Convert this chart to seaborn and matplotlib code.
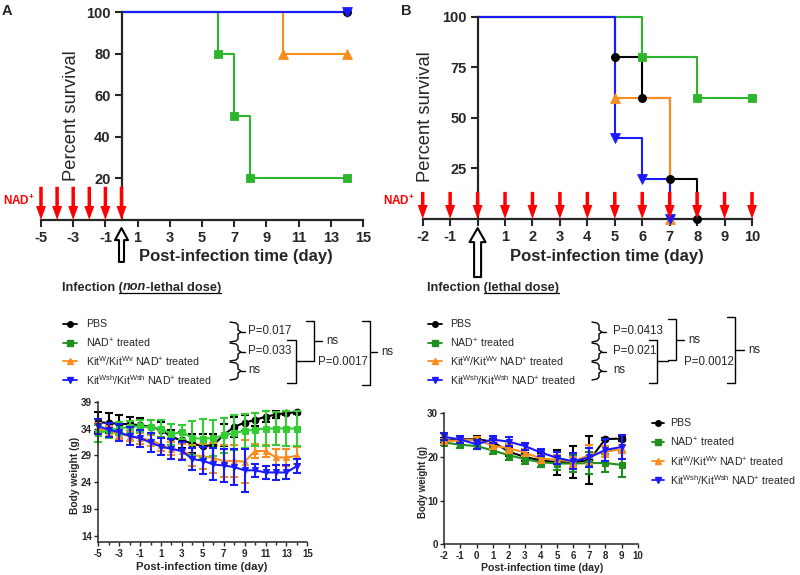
import matplotlib
matplotlib.use("Agg")
import matplotlib.pyplot as plt
import seaborn as sns

sns.set_style("ticks")
plt.rcParams['font.family'] = ['Liberation Sans', 'DejaVu Sans']
plt.rcParams['mathtext.fontset'] = 'custom'
plt.rcParams['mathtext.rm'] = 'Liberation Sans'
plt.rcParams['mathtext.it'] = 'Liberation Sans:italic'
plt.rcParams['mathtext.bf'] = 'Liberation Sans:bold'
plt.rcParams['mathtext.default'] = 'regular'

# ---- data -------------------------------------------------------------
groups = ['PBS', 'NAD$^{+}$ treated', 'Kit$^{W}$/Kit$^{Wv}$ NAD$^{+}$ treated',
          'Kit$^{Wsh}$/Kit$^{Wsh}$ NAD$^{+}$ treated']

# survival (A, non-lethal dose): step times and percent survival
a_pbs_t, a_pbs_s = [0, 14], [100, 100]
a_nad_t, a_nad_s = [0, 6, 7, 8, 14], [100, 80, 50, 20, 20]
a_kitw_t, a_kitw_s = [0, 10, 14], [100, 80, 80]
a_wsh_t, a_wsh_s = [0, 14], [100, 100]
a_nad_days = [-5, -4, -3, -2, -1, 0]

# survival (B, lethal dose)
b_pbs_t, b_pbs_s = [0, 5, 6, 7, 8], [100, 80, 60, 20, 0]
b_nad_t, b_nad_s = [0, 6, 8, 10], [100, 80, 60, 60]
b_kitw_t, b_kitw_s = [0, 5, 7], [100, 60, 0]
b_wsh_t, b_wsh_s = [0, 5, 6, 7], [100, 40, 20, 0]
b_nad_days = [-2, -1, 0, 1, 2, 3, 4, 5, 6, 7, 8, 9, 10]

# body weight (A)
wa_days = list(range(-5, 15))
wa_pbs = [35.2, 35.0, 34.9, 34.8, 34.6, 34.3, 33.8, 32.4, 31.8, 31.2, 30.7, 30.9, 32.8, 34.3, 35.1, 35.6, 36.2, 36.6, 36.9, 37.0]
wa_pbs_err = [1.9, 1.8, 1.6, 1.4, 1.3, 1.3, 1.4, 1.4, 1.5, 1.8, 2.2, 2.0, 2.0, 1.9, 1.5, 1.2, 1.0, 0.6, 0.4, 0.3]
wa_nad = [33.1, 33.7, 34.0, 34.3, 34.4, 34.2, 34.0, 32.9, 33.4, 32.2, 32.1, 32.2, 32.7, 33.2, 33.5, 33.8, 34.0, 34.0, 34.0, 34.0]
wa_nad_err = [1.6, 1.4, 1.2, 1.1, 1.1, 1.3, 1.6, 2.0, 1.3, 3.2, 3.6, 3.4, 3.3, 3.3, 3.2, 3.1, 3.3, 3.0, 3.3, 3.3]
wa_kitw = [34.0, 33.4, 33.0, 32.6, 32.2, 31.8, 31.0, 30.2, 29.8, 29.0, 28.8, 28.5, 27.9, 28.0, 27.8, 29.8, 29.8, 28.6, 28.6, 28.9]
wa_kitw_err = [1.0, 1.0, 1.0, 1.0, 1.0, 1.0, 1.2, 1.2, 1.4, 2.0, 2.4, 2.8, 3.0, 3.0, 4.0, 1.3, 1.2, 1.5, 1.6, 1.6]
wa_wsh = [34.4, 33.8, 33.3, 32.6, 32.2, 31.4, 30.6, 30.2, 29.8, 28.3, 28.0, 27.3, 27.1, 26.8, 26.2, 26.2, 25.8, 25.8, 25.8, 27.0]
wa_wsh_err = [1.4, 1.3, 1.6, 1.7, 1.6, 1.7, 1.6, 1.8, 1.6, 2.0, 2.5, 3.0, 3.0, 3.3, 4.0, 1.2, 1.2, 1.4, 1.3, 1.3]

# body weight (B)
wb_days = list(range(-2, 10))
wb_pbs = [23.7, 24.0, 24.1, 23.5, 21.2, 20.0, 19.2, 18.8, 18.8, 19.3, 24.1, 24.2]
wb_pbs_err = [0.6, 0.6, 0.6, 0.7, 1.0, 1.0, 1.6, 2.9, 3.6, 5.5, 0.3, 0.5]
wb_nad = [23.3, 22.8, 22.5, 21.5, 20.4, 19.5, 18.8, 18.5, 18.5, 18.6, 18.6, 18.2]
wb_nad_err = [0.6, 0.8, 0.7, 0.8, 1.2, 1.0, 1.0, 1.5, 2.0, 2.6, 2.0, 2.9]
wb_kitw = [23.6, 23.8, 24.0, 22.6, 22.0, 21.0, 19.6, 19.4, 18.9, 20.5, 21.2, 21.8]
wb_kitw_err = [0.6, 0.6, 0.5, 0.8, 1.0, 0.8, 0.9, 1.0, 1.2, 2.2, 1.2, 1.0]
wb_wsh = [24.6, 24.0, 22.9, 24.0, 23.5, 22.5, 21.0, 19.8, 19.0, 19.9, 21.6, 22.3]
wb_wsh_err = [0.8, 0.8, 1.0, 0.9, 1.0, 0.8, 0.8, 1.3, 1.8, 2.2, 2.5, 2.8]

# statistics brackets
a_pvals = ['P=0.017', 'P=0.033', 'ns', 'ns', 'P=0.0017', 'ns']
b_pvals = ['P=0.0413', 'P=0.021', 'ns', 'ns', 'P=0.0012', 'ns']

# ---- styling ----------------------------------------------------------
BLACK, ORANGE, BLUE = '#000000', '#fb8c1e', '#1a1aff'
GREEN_S, GREEN_WA, GREEN_D = '#2db52d', '#33cc33', '#1f8f1f'
markers = ['o', 's', '^', 'v']

W, H = 800, 575
fig = plt.figure(figsize=(8, 5.75), dpi=100)


def rect(l, r, t, b):
    return [l / W, 1 - b / H, (r - l) / W, (b - t) / H]


MS = 10 * 100 / 72  # mutation scale in px


def survival(ax, curves, xlim, xticks, xlabels, yticks, nad_days, nad_top, tip, tail, head):
    for (t, s), col, mk, sz in curves:
        sns.lineplot(x=t, y=s, drawstyle='steps-post', color=col, lw=1.5,
                     errorbar=None, ax=ax, clip_on=False)
        sns.scatterplot(x=t[1:], y=s[1:], marker=mk, s=sz, color=col, edgecolor=col,
                        linewidth=0.6, ax=ax, clip_on=False, zorder=3)
    ax.set_xlim(*xlim)
    ax.set_ylim(0, 100)
    sns.despine(ax=ax)
    ax.spines['left'].set_position(('data', 0))
    ax.spines['left'].set_bounds(0, 100)
    for sp in ['left', 'bottom']:
        ax.spines[sp].set_linewidth(1.6)
    ax.set_xticks(xticks, labels=xlabels, fontsize=10.5, fontweight='bold')
    ax.set_yticks(yticks, labels=[str(v) for v in yticks], fontsize=10.5, fontweight='bold')
    ax.tick_params(length=5, width=1.5, pad=3)
    ax.set_xlabel('')
    ax.set_ylabel('')
    for d in nad_days:
        ax.annotate('', xy=(d, 0), xytext=(d, nad_top), annotation_clip=False,
                    arrowprops=dict(arrowstyle=f'simple,head_length={14 / MS},head_width={10 / MS},tail_width={3.5 / MS}',
                                    color='red', lw=0, shrinkA=0, shrinkB=0, mutation_scale=10))
    hl, hw, tw = head
    ax.annotate('', xy=(0, tip), xytext=(0, tail), annotation_clip=False,
                arrowprops=dict(arrowstyle=f'simple,head_length={hl / MS},head_width={hw / MS},tail_width={tw / MS}',
                                fc='white', ec='black', lw=1.5, shrinkA=0, shrinkB=0, mutation_scale=10))


ax_a = fig.add_axes(rect(41, 363, 12.3, 220))
survival(ax_a,
         [((a_pbs_t, a_pbs_s), BLACK, 'o', 34), ((a_nad_t, a_nad_s), GREEN_S, 's', 40),
          ((a_kitw_t, a_kitw_s), ORANGE, '^', 50), ((a_wsh_t, a_wsh_s), BLUE, 'v', 50)],
         (-5, 15), list(range(-5, 16, 2)), [str(v) for v in range(-5, 16, 2)],
         [20, 40, 60, 80, 100], a_nad_days, 16, -3.9, -20.2, (12, 13, 5))

ax_b = fig.add_axes(rect(422.7, 752, 16.7, 219))
survival(ax_b,
         [((b_pbs_t, b_pbs_s), BLACK, 'o', 34), ((b_nad_t, b_nad_s), GREEN_S, 's', 40),
          ((b_kitw_t, b_kitw_s), ORANGE, '^', 50), ((b_wsh_t, b_wsh_s), BLUE, 'v', 50)],
         (-2, 10), list(range(-2, 11)), ['' if v == 0 else str(v) for v in range(-2, 11)],
         [25, 50, 75, 100], b_nad_days, 13.4, -4.5, -28.7, (14, 16, 7))


def weight(ax, series, xlim, xticks, ylim, yticks):
    for days, vals, err, col, mk in series:
        sns.lineplot(x=days, y=vals, marker=mk, markersize=4.8, markeredgecolor=col,
                     color=col, lw=1.5, errorbar=None, ax=ax, clip_on=False)
        ax.errorbar(days, vals, yerr=err, fmt='none', ecolor=col, elinewidth=1.5,
                    capsize=2.8, capthick=1.5, clip_on=False)
    ax.set_xlim(*xlim)
    ax.set_ylim(*ylim)
    sns.despine(ax=ax)
    for sp in ['left', 'bottom']:
        ax.spines[sp].set_linewidth(1.1)
    ax.set_xticks(xticks, labels=[str(v) for v in xticks], fontsize=7, fontweight='bold')
    ax.set_yticks(yticks, labels=[str(v) for v in yticks], fontsize=7, fontweight='bold')
    ax.tick_params(length=3, width=1, pad=1.5)
    ax.set_xlabel('')
    ax.set_ylabel('')


ax_wa = fig.add_axes(rect(98.3, 307.3, 401.7, 542.3))
weight(ax_wa, [(wa_days, wa_pbs, wa_pbs_err, BLACK, 'o'),
               (wa_days, wa_kitw, wa_kitw_err, ORANGE, '^'),
               (wa_days, wa_nad, wa_nad_err, GREEN_WA, 's'),
               (wa_days, wa_wsh, wa_wsh_err, BLUE, 'v')],
       (-5, 15), list(range(-5, 16, 2)), (12.77, 39), [14, 19, 24, 29, 34, 39])
ax_wa.set_xticks(range(-5, 16), minor=True)
ax_wa.tick_params(which='minor', length=2, width=1)

ax_wb = fig.add_axes(rect(444.3, 637.7, 413.3, 544.3))
weight(ax_wb, [(wb_days, wb_pbs, wb_pbs_err, BLACK, 'o'),
               (wb_days, wb_nad, wb_nad_err, GREEN_D, 's'),
               (wb_days, wb_kitw, wb_kitw_err, ORANGE, '^'),
               (wb_days, wb_wsh, wb_wsh_err, BLUE, 'v')],
       (-2, 10), list(range(-2, 11)), (0, 30), [0, 10, 20, 30])

# ---- overlay for annotations (pixel coordinates) ------------------------
ov = fig.add_axes([0, 0, 1, 1])
ov.set_xlim(0, W)
ov.set_ylim(H, 0)
ov.axis('off')

ov.text(2, 4, 'A', fontsize=10.5, fontweight='bold', va='top', ha='left')
ov.text(401, 4, 'B', fontsize=10.5, fontweight='bold', va='top', ha='left')

for x, y in [(72, 116), (426, 117)]:
    ov.text(x, y, 'Percent survival', rotation=90, fontsize=13.2, ha='center', va='center')
for x, y in [(236, 257), (607, 257)]:
    ov.text(x, y, 'Post-infection time (day)', fontsize=12, fontweight='bold', ha='center', va='center')
ov.text(35, 201, 'NAD$^{+}$', color='red', fontsize=8.5, fontweight='bold', ha='right', va='center')
ov.text(415, 201, 'NAD$^{+}$', color='red', fontsize=8.5, fontweight='bold', ha='right', va='center')

rend = fig.canvas.get_renderer()


def infection(x, y, parts):
    cx = x
    for txt, st in parts:
        t = ov.text(cx, y, txt, fontsize=9.2, fontweight='bold', fontstyle=st, va='baseline', ha='left')
        w = t.get_window_extent(rend).width
        if txt.endswith('('):
            p = ov.text(0, 0, '(', fontsize=9.2, fontweight='bold')
            ul_start = cx + w - p.get_window_extent(rend).width
            p.remove()
        cx += w
    ov.plot([ul_start, cx], [y + 2.5, y + 2.5], color='k', lw=0.9)


infection(62, 290.5, [('Infection (', 'normal'), ('non', 'italic'), ('-lethal dose)', 'normal')])
infection(427, 290.5, [('Infection (', 'normal'), ('lethal dose)', 'normal')])

rows = [324, 343, 361, 380]
leg_cols = [BLACK, GREEN_D, ORANGE, BLUE]


def legend_block(x0, x1, xt, ys, cols):
    for y, col, mk, lab in zip(ys, cols, markers, groups):
        ov.plot([x0, x1], [y, y], color=col, lw=1.3)
        ov.plot([(x0 + x1) / 2], [y], marker=mk, ms=4, color=col)
        ov.text(xt, y, lab, fontsize=7.7, va='center', ha='left')


legend_block(63, 77, 86, rows, leg_cols)
legend_block(428, 442, 450, rows, leg_cols)
legend_block(652, 664, 670, [423, 442, 461, 480], leg_cols)

LW = 1.0


def brace(x0, x1, yt, yb, tip):
    ym = (yt + yb) / 2
    ov.plot([x0, x1 - 2, x1, x1, x1 + 3, x1, x1, x1 - 2, x0],
            [yt, yt + 1, yt + 3, ym - 2, ym, ym + 2, yb - 3, yb - 1, yb], color='k', lw=LW)
    ov.plot([x1 + 3, tip], [ym, ym], color='k', lw=LW)


def square(x0, x1, yt, yb, ym, tip):
    ov.plot([x0, x1, x1, x0], [yt, yt, yb, yb], color='k', lw=LW)
    ov.plot([x1, tip], [ym, ym], color='k', lw=LW)


def stats_block(pv, b1x, lab1x, b4, b5, b6, pbig):
    brace(b1x[0], b1x[1], 322, 342, b1x[2])
    brace(b1x[0], b1x[1], 343, 361, b1x[2])
    brace(b1x[0], b1x[1], 362, 380, b1x[2])
    for y, s in zip([331, 351, 370], pv[:3]):
        ov.text(lab1x, y, s, fontsize=8.3, va='center', ha='left')
    square(*b4)
    square(*b5)
    ov.text(b5[5] + 4, b5[4], pv[3], fontsize=8.3, va='center', ha='left')
    ov.text(pbig[0], pbig[1], pv[4], fontsize=8.3, va='center', ha='left')
    square(*b6)
    ov.text(b6[5] + 4, b6[4], pv[5], fontsize=8.3, va='center', ha='left')


stats_block(a_pvals, (230, 238, 245), 248,
            (287, 296, 340, 383, 361, 306), (306, 314, 321, 361, 341, 322),
            (362, 370, 321, 385, 352, 377), (318, 362))
stats_block(b_pvals, (592, 599, 606), 613,
            (649, 657, 340, 383, 361, 668), (668, 676, 319, 360, 340, 684),
            (727, 735, 317, 383, 350, 744), (684, 362))

ov.text(75, 475, 'Body weight (g)', rotation=90, fontsize=7.4, fontweight='bold', ha='center', va='center')
ov.text(423, 482, 'Body weight (g)', rotation=90, fontsize=6.9, fontweight='bold', ha='center', va='center')
ov.text(202, 567, 'Post-infection time (day)', fontsize=8.1, fontweight='bold', ha='center', va='center')
ov.text(542, 568, 'Post-infection time (day)', fontsize=7.6, fontweight='bold', ha='center', va='center')

fig.savefig('out.png', dpi=100)
